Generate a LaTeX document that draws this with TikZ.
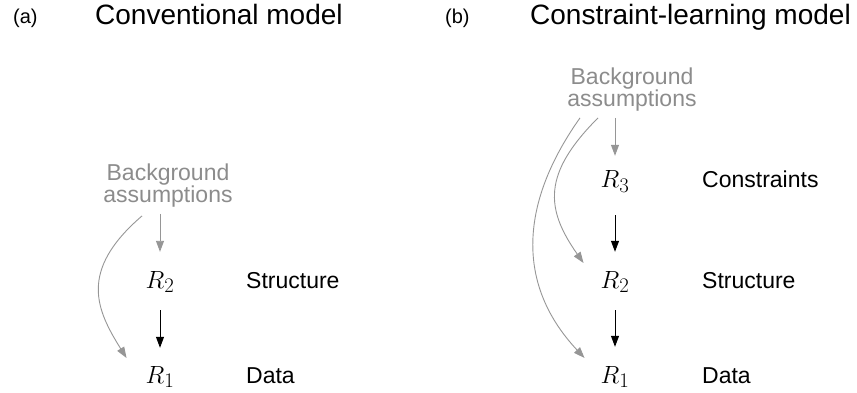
\documentclass[tikz,border=0pt]{standalone}
\usepackage{fontspec}
\setmainfont{Liberation Sans}
\usetikzlibrary{arrows.meta,calc}
\definecolor{bggray}{RGB}{140,140,140}
\definecolor{linkgray}{RGB}{150,150,150}

\begin{document}
\begin{tikzpicture}[x=1pt,y=-1pt,
  title/.style={anchor=base west,inner sep=0,font=\fontsize{28}{30}\selectfont},
  tag/.style={anchor=base west,inner sep=0,font=\fontsize{20}{22}\selectfont},
  bg/.style={inner sep=0,align=center,text=bggray,font=\fontsize{23}{22}\selectfont},
  rel/.style={anchor=base,inner sep=0,text height=20pt,text depth=5pt,font=\fontsize{30}{32}\selectfont},
  lvl/.style={anchor=base west,inner sep=0,font=\fontsize{23}{25}\selectfont},
  gline/.style={draw=linkgray,line width=0.9pt,-{Triangle[length=11pt,width=8pt]}},
  kline/.style={draw=black,line width=1pt,-{Triangle[length=11pt,width=8pt]}}
]
\useasboundingbox (0,0) rectangle (857,393);

% headings
\node[tag]   (taga)   at (13,24)  {(a)};
\node[title] (titlea) at (95,25)  {Conventional model};
\node[tag]   (tagb)   at (445,24) {(b)};
\node[title] (titleb) at (530,25) {Constraint-learning model};

% (a) conventional model
\node[bg]  (bga) at (168,186) {Background\\assumptions};
\node[rel] (r2a) at (160,288) {$R_2$};
\node[rel] (r1a) at (160,383) {$R_1$};
\node[lvl] (sa)  at (246,288) {Structure};
\node[lvl] (da)  at (246,383) {Data};

\draw[gline,shorten <=6pt,shorten >=16pt] (bga.south -| r2a.north) -- (r2a.north);
\draw[kline,shorten <=17pt,shorten >=15pt] (r2a.south) -- (r1a.north);
\draw[gline] ($(bga.south)+(-26,8)$) .. controls +(-64,55) and +(-30,-48) .. ($(r1a.west)+(-19,-17.5)$);

% (b) constraint-learning model
\node[bg]  (bgb) at (632,90) {Background\\assumptions};
\node[rel] (r3b) at (615,188) {$R_3$};
\node[rel] (r2b) at (615,288) {$R_2$};
\node[rel] (r1b) at (615,383) {$R_1$};
\node[lvl] (cb)  at (702,188) {Constraints};
\node[lvl] (sb)  at (702,288) {Structure};
\node[lvl] (db)  at (702,383) {Data};

\draw[gline,shorten <=6pt,shorten >=12pt] (bgb.south -| r3b.north) -- (r3b.north);
\draw[kline,shorten <=22pt,shorten >=16pt] (r3b.south) -- (r2b.north);
\draw[kline,shorten <=17pt,shorten >=16pt] (r2b.south) -- (r1b.north);
\draw[gline] ($(bgb.south)+(-34,6)$) .. controls +(-56,56) and +(-38,-54) .. ($(r2b.west)+(-17,-17.5)$);
\draw[gline] ($(bgb.south)+(-52,6)$) .. controls +(-56,79) and +(-73,-78) .. ($(r1b.west)+(-16,-17.5)$);
\end{tikzpicture}
\end{document}
